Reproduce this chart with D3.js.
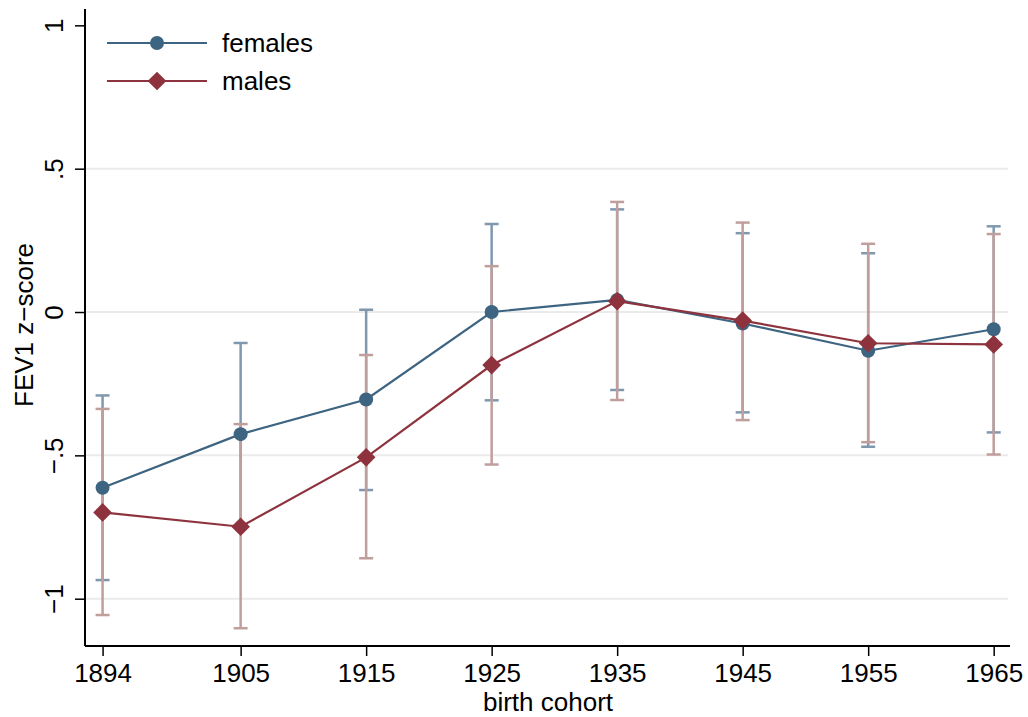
<!DOCTYPE html>
<html>
<head>
<meta charset="utf-8">
<script src="https://cdn.jsdelivr.net/npm/d3@7"></script>
<style>
  body { margin: 0; background: #fff; }
  text { font-family: "Liberation Sans", Arial, Helvetica, sans-serif; fill: #000; }
</style>
</head>
<body>
<svg id="viz"></svg>
<script>
const width = 1028, height = 717;

// data
const cohorts = [1894, 1905, 1915, 1925, 1935, 1945, 1955, 1965];
const femMean = [-0.613, -0.426, -0.305, 0.0, 0.042, -0.040, -0.135, -0.060];
const femLow  = [-0.935, -0.744, -0.621, -0.308, -0.272, -0.350, -0.470, -0.420];
const femHigh = [-0.291, -0.108, 0.008, 0.307, 0.358, 0.275, 0.205, 0.299];
const maleMean = [-0.699, -0.749, -0.507, -0.185, 0.038, -0.030, -0.109, -0.113];
const maleLow  = [-1.057, -1.103, -0.859, -0.532, -0.307, -0.377, -0.454, -0.497];
const maleHigh = [-0.338, -0.391, -0.150, 0.160, 0.384, 0.312, 0.238, 0.272];
const yTicks = [-1, -0.5, 0, 0.5, 1];
const yTickLabels = ["\u22121", "\u2212.5", "0", ".5", "1"];

const svg = d3.select("#viz").attr("width", width).attr("height", height);

const x = d3.scaleLinear().domain([1892.6, 1966.3]).range([85, 1010]);
const y = d3.scaleLinear().domain([-1.165, 1.057]).range([646, 9]);

const femCol = "#3d6481", femCI = "#8098ae";
const maleCol = "#8e333d", maleCI = "#c09e9c";

// gridlines
svg.append("g").selectAll("line")
  .data([-1, -0.5, 0, 0.5])
  .enter().append("line")
  .attr("x1", 86).attr("x2", 1008)
  .attr("y1", d => y(d)).attr("y2", d => y(d))
  .attr("stroke", "#ebebeb").attr("stroke-width", 2);

// axes
const yAxis = d3.axisLeft(y).tickValues(yTicks).tickSize(10)
  .tickFormat((d, i) => yTickLabels[i]);
const gy = svg.append("g").attr("transform", "translate(85,0)").call(yAxis);
gy.select(".domain").attr("d", "M0,9V646").attr("stroke", "#000").attr("stroke-width", 2);
gy.selectAll(".tick line").attr("stroke-width", 1.5);
gy.selectAll(".tick text")
  .attr("font-size", 26)
  .attr("x", 0).attr("y", 0).attr("dy", 0)
  .attr("text-anchor", "middle")
  .attr("transform", "translate(-22,0) rotate(-90)");

const xAxis = d3.axisBottom(x).tickValues(cohorts).tickSize(10).tickFormat(d3.format("d"));
const gx = svg.append("g").attr("transform", "translate(0,646)").call(xAxis);
gx.select(".domain").attr("d", "M85,0H1010").attr("stroke", "#000").attr("stroke-width", 2);
gx.selectAll(".tick line").attr("stroke-width", 1.5);
gx.selectAll(".tick text").attr("font-size", 26).attr("y", 36).attr("dy", 0);

svg.append("text").attr("x", 548).attr("y", 711)
  .attr("text-anchor", "middle").attr("font-size", 26).text("birth cohort");
svg.append("text")
  .attr("transform", "translate(33,325) rotate(-90)")
  .attr("text-anchor", "middle").attr("font-size", 26).text("FEV1 z\u2212score");

// error bars
function errorBars(lo, hi, col) {
  const g = svg.append("g").attr("stroke", col).attr("stroke-width", 2.5);
  cohorts.forEach((c, i) => {
    g.append("line").attr("x1", x(c)).attr("x2", x(c)).attr("y1", y(lo[i])).attr("y2", y(hi[i]));
    [lo[i], hi[i]].forEach(v => {
      g.append("line").attr("x1", x(c) - 7).attr("x2", x(c) + 7).attr("y1", y(v)).attr("y2", y(v));
    });
  });
}
errorBars(femLow, femHigh, femCI);
errorBars(maleLow, maleHigh, maleCI);

const line = d3.line().x((d, i) => x(cohorts[i])).y(d => y(d));

svg.append("path").datum(femMean).attr("d", line)
  .attr("fill", "none").attr("stroke", femCol).attr("stroke-width", 2.2);
svg.selectAll(".fpt").data(femMean).enter().append("circle")
  .attr("cx", (d, i) => x(cohorts[i])).attr("cy", d => y(d)).attr("r", 7).attr("fill", femCol);

svg.append("path").datum(maleMean).attr("d", line)
  .attr("fill", "none").attr("stroke", maleCol).attr("stroke-width", 2.2);
const diamond = d3.symbol().type(d3.symbolSquare).size(175);
svg.selectAll(".mpt").data(maleMean).enter().append("path")
  .attr("d", diamond)
  .attr("transform", (d, i) => "translate(" + x(cohorts[i]) + "," + y(d) + ") rotate(45)")
  .attr("fill", maleCol);

// legend
const leg = svg.append("g");
leg.append("line").attr("x1", 107).attr("x2", 207).attr("y1", 43).attr("y2", 43)
  .attr("stroke", femCol).attr("stroke-width", 2.2);
leg.append("circle").attr("cx", 157).attr("cy", 43).attr("r", 7).attr("fill", femCol);
leg.append("text").attr("x", 222).attr("y", 52).attr("font-size", 26).text("females");
leg.append("line").attr("x1", 107).attr("x2", 207).attr("y1", 81).attr("y2", 81)
  .attr("stroke", maleCol).attr("stroke-width", 2.2);
leg.append("path").attr("d", diamond).attr("transform", "translate(157,81) rotate(45)").attr("fill", maleCol);
leg.append("text").attr("x", 222).attr("y", 90).attr("font-size", 26).text("males");
</script>
</body>
</html>
